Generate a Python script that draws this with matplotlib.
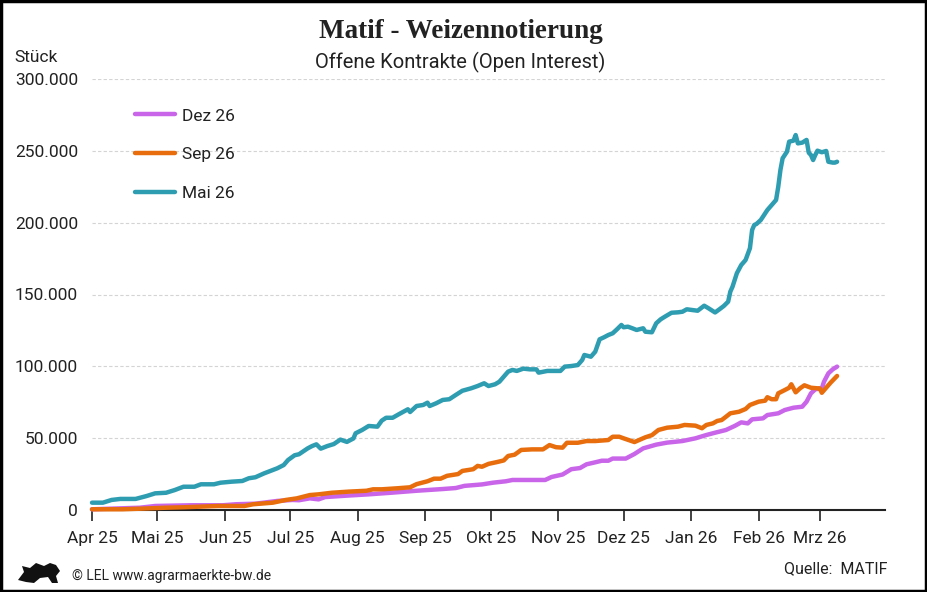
import matplotlib
matplotlib.use("Agg")
import matplotlib.pyplot as plt
from matplotlib.ticker import FuncFormatter, MultipleLocator
from matplotlib.patches import Rectangle, Polygon
import pandas as pd

plt.rcParams['font.family'] = ['Roboto', 'DejaVu Sans']

# ---------------- data ----------------
mai26_dates = [
    "2025-04-01", "2025-04-06", "2025-04-10", "2025-04-14", "2025-04-21", "2025-04-26", "2025-04-30",
    "2025-05-05", "2025-05-09", "2025-05-13", "2025-05-18", "2025-05-21", "2025-05-27", "2025-05-30",
    "2025-06-04", "2025-06-09", "2025-06-12", "2025-06-15", "2025-06-19", "2025-06-25", "2025-06-28", "2025-06-30",
    "2025-07-03", "2025-07-05", "2025-07-09", "2025-07-11", "2025-07-13", "2025-07-15", "2025-07-18",
    "2025-07-21", "2025-07-24", "2025-07-27", "2025-07-30", "2025-07-31",
    "2025-08-03", "2025-08-06", "2025-08-10", "2025-08-12", "2025-08-14", "2025-08-17", "2025-08-20",
    "2025-08-24", "2025-08-25", "2025-08-28", "2025-08-31",
    "2025-09-02", "2025-09-03", "2025-09-06", "2025-09-09", "2025-09-12", "2025-09-15", "2025-09-18",
    "2025-09-22", "2025-09-25", "2025-09-28", "2025-09-30",
    "2025-10-03", "2025-10-05", "2025-10-07", "2025-10-09", "2025-10-11", "2025-10-13", "2025-10-16",
    "2025-10-19", "2025-10-22", "2025-10-23", "2025-10-27",
    "2025-11-02", "2025-11-04", "2025-11-07", "2025-11-10", "2025-11-12", "2025-11-13", "2025-11-16",
    "2025-11-18", "2025-11-20", "2025-11-22", "2025-11-24", "2025-11-26", "2025-11-28", "2025-11-30",
    "2025-12-01", "2025-12-03", "2025-12-05", "2025-12-07", "2025-12-10", "2025-12-11", "2025-12-14",
    "2025-12-16", "2025-12-18", "2025-12-20", "2025-12-23", "2025-12-26", "2025-12-28", "2025-12-30",
    "2026-01-04", "2026-01-07", "2026-01-09", "2026-01-12", "2026-01-14", "2026-01-16", "2026-01-18",
    "2026-01-19", "2026-01-20", "2026-01-22", "2026-01-24", "2026-01-26", "2026-01-28", "2026-01-29",
    "2026-01-30", "2026-01-31",
    "2026-02-02", "2026-02-04", "2026-02-05", "2026-02-07", "2026-02-09", "2026-02-10", "2026-02-11",
    "2026-02-12", "2026-02-14", "2026-02-15", "2026-02-17", "2026-02-18", "2026-02-19", "2026-02-21",
    "2026-02-23", "2026-02-24", "2026-02-25", "2026-02-26", "2026-02-27", "2026-02-28",
    "2026-03-02", "2026-03-04", "2026-03-05", "2026-03-07", "2026-03-08", "2026-03-09",
]
mai26_values = [
    5100, 5100, 7000, 7700, 7700, 9700, 11600,
    12000, 13900, 16200, 16200, 17900, 17900, 19000,
    19700, 20200, 22100, 22800, 25500, 29000, 31300, 34800,
    38100, 38800, 42900, 44500, 45700, 42700, 44500,
    45900, 49000, 47400, 49800, 53400,
    55700, 58500, 58000, 62200, 64200, 64200, 66800,
    70100, 68200, 72400, 73100,
    74700, 72400, 74300, 76600, 77100, 80100, 83000,
    84700, 86300, 88200, 86300,
    87500, 89300, 92800, 96300, 97500, 96800, 98400,
    97900, 97900, 95600, 96800,
    96800, 99800, 100200, 100900, 104400, 107900, 106700,
    110200, 118800, 120200, 121800, 123000, 125800, 128800,
    127200, 127600, 126500, 125300, 126500, 124100, 123700,
    130000, 132700, 134600, 137300, 137600, 138000, 139700,
    138700, 142200, 140400, 137500, 139700, 142000, 145000,
    152000, 155400, 164800, 170500, 174000, 182200, 194900,
    198400, 199100,
    201900, 206500, 208800, 212300, 215800, 225000, 236700,
    244800, 249400, 256400, 257100, 261000, 255200, 255700,
    257600, 248700, 247100, 243600, 247100, 250100,
    249000, 249900, 242400, 241800, 241800, 242400,
]

sep26_dates = [
    "2025-04-01", "2025-04-15", "2025-04-23", "2025-05-05", "2025-05-13", "2025-05-29",
    "2025-06-10", "2025-06-14", "2025-06-23", "2025-06-29",
    "2025-07-04", "2025-07-10", "2025-07-14", "2025-07-20", "2025-07-28",
    "2025-08-05", "2025-08-08", "2025-08-12", "2025-08-19", "2025-08-25", "2025-08-28",
    "2025-09-02", "2025-09-05", "2025-09-08", "2025-09-11", "2025-09-16", "2025-09-18",
    "2025-09-23", "2025-09-25", "2025-09-27", "2025-09-30",
    "2025-10-04", "2025-10-07", "2025-10-09", "2025-10-12", "2025-10-15", "2025-10-20",
    "2025-10-25", "2025-10-28", "2025-10-31",
    "2025-11-03", "2025-11-05", "2025-11-10", "2025-11-14", "2025-11-18", "2025-11-24",
    "2025-11-26", "2025-11-29",
    "2025-12-01", "2025-12-06", "2025-12-11", "2025-12-14", "2025-12-17", "2025-12-21",
    "2025-12-26", "2025-12-29",
    "2026-01-03", "2026-01-06", "2026-01-08", "2026-01-11", "2026-01-13", "2026-01-15",
    "2026-01-17", "2026-01-19", "2026-01-23", "2026-01-26", "2026-01-28",
    "2026-02-01", "2026-02-04", "2026-02-05", "2026-02-07", "2026-02-09", "2026-02-10",
    "2026-02-13", "2026-02-15", "2026-02-16", "2026-02-17", "2026-02-18", "2026-02-20",
    "2026-02-22", "2026-02-25", "2026-02-28",
    "2026-03-01", "2026-03-02", "2026-03-04", "2026-03-06", "2026-03-09",
]
sep26_values = [
    500, 500, 900, 1600, 1900, 2800,
    2800, 4000, 5100, 7000,
    8100, 10400, 10900, 12000, 12800,
    13400, 14400, 14400, 15100, 15800, 18000,
    20000, 21800, 21800, 23800, 25000, 27200,
    28400, 30700, 30100, 32100,
    33400, 34500, 37600, 38500, 41800, 42200,
    42200, 45200, 43700,
    43400, 46800, 46800, 48000, 48000, 48700,
    51000, 51000,
    49900, 47300, 50600, 52100, 55700, 57300,
    58000, 59200,
    58700, 56900, 59200, 60300, 62000, 62600,
    64900, 67300, 68400, 70300, 73100,
    75400, 76100, 78500, 77100, 77100, 81200,
    83500, 85100, 87500, 84700, 81900, 84700,
    86800, 85100, 84700,
    84700, 81600, 85100, 88600, 93300,
]

dez26_dates = [
    "2025-04-01", "2025-04-23", "2025-04-30", "2025-05-17", "2025-05-31",
    "2025-06-06", "2025-06-15", "2025-06-25",
    "2025-07-02", "2025-07-05", "2025-07-10", "2025-07-14", "2025-07-17", "2025-07-27",
    "2025-08-06", "2025-08-17", "2025-08-28",
    "2025-09-09", "2025-09-15", "2025-09-19", "2025-09-27",
    "2025-10-02", "2025-10-08", "2025-10-11", "2025-10-26", "2025-10-29",
    "2025-11-03", "2025-11-07", "2025-11-11", "2025-11-14", "2025-11-18", "2025-11-21",
    "2025-11-24", "2025-11-26",
    "2025-12-02", "2025-12-06", "2025-12-10", "2025-12-16", "2025-12-21", "2025-12-28",
    "2026-01-03", "2026-01-08", "2026-01-12", "2026-01-17", "2026-01-21", "2026-01-24",
    "2026-01-27", "2026-01-29",
    "2026-02-03", "2026-02-05", "2026-02-10", "2026-02-13", "2026-02-17", "2026-02-21",
    "2026-02-23", "2026-02-25", "2026-02-27",
    "2026-03-02", "2026-03-03", "2026-03-05", "2026-03-07", "2026-03-09",
]
dez26_values = [
    500, 1600, 2800, 3300, 3300,
    4000, 4400, 6300,
    7000, 6800, 8100, 7400, 9000, 10000,
    10900, 12100, 13400,
    14600, 15300, 16800, 17800,
    19000, 20000, 20900, 20900, 23000,
    24700, 28400, 29200, 31800, 33200, 34300,
    34300, 35800,
    35800, 39000, 42900, 45500, 46900, 48000,
    49900, 52200, 53800, 55700, 58500, 61000,
    60300, 63100,
    63800, 66100, 67300, 69600, 71200, 71900,
    75400, 81200, 84000,
    84700, 89300, 95100, 97900, 99800,
]

series_names = ["Dez 26", "Sep 26", "Mai 26"]
series_colors = ["#c965e9", "#e86d0d", "#2f9db1"]

tick_dates = ["2025-04-01", "2025-05-01", "2025-06-01", "2025-07-01", "2025-08-01", "2025-09-01",
              "2025-10-01", "2025-11-01", "2025-12-01", "2026-01-01", "2026-02-01", "2026-03-01"]
tick_labels = ["Apr 25", "Mai 25", "Jun 25", "Jul 25", "Aug 25", "Sep 25",
               "Okt 25", "Nov 25", "Dez 25", "Jan 26", "Feb 26", "Mrz 26"]

# ---------------- figure ----------------
W, H = 927, 592
fig = plt.figure(figsize=(W / 100, H / 100), dpi=100)
fig.patch.set_facecolor("white")

ax = fig.add_axes([92 / W, (H - 510) / H, (885 - 92) / W, (510 - 79) / H])

data = [
    (dez26_dates, dez26_values),
    (sep26_dates, sep26_values),
    (mai26_dates, mai26_values),
]
handles = []
for (d, v), name, col in zip(data, series_names, series_colors):
    h, = ax.plot(pd.to_datetime(d), v, color=col, lw=3.2, label=name,
                 solid_capstyle="round", solid_joinstyle="round", clip_on=False, zorder=3)
    handles.append(h)

ax.set_xlim(pd.Timestamp("2025-04-01"), pd.Timestamp("2026-03-31"))
ax.set_ylim(0, 300000)
ax.yaxis.set_major_locator(MultipleLocator(50000))
ax.yaxis.set_major_formatter(FuncFormatter(lambda v, p: f"{int(v):,}".replace(",", ".")))
ax.grid(axis="y", color="#d4d4d4", linestyle=(0, (3, 2)), linewidth=0.8, zorder=0)
ax.set_axisbelow(True)

ax.set_xticks(pd.to_datetime(tick_dates))
ax.set_xticklabels(tick_labels)

for s in ["top", "right", "left"]:
    ax.spines[s].set_visible(False)
ax.spines["bottom"].set_color("#222222")
ax.spines["bottom"].set_linewidth(1.5)
ax.tick_params(axis="x", length=8, width=1.2, color="#222222", pad=7, labelsize=12.5, labelcolor="#222222")
ax.tick_params(axis="y", length=0, pad=10, labelsize=12.5, labelcolor="#222222")

leg = ax.legend(handles=handles, loc="upper left", bbox_to_anchor=(0.035, 0.968), frameon=False,
                fontsize=12.5, handlelength=2.3, labelspacing=1.36, handletextpad=0.4)
for t in leg.get_texts():
    t.set_color("#222222")

# texts
fig.text(461 / W, 1 - 32 / H, "Matif - Weizennotierung", ha="center", va="center",
         fontsize=19.5, fontweight="bold", family=["Liberation Serif", "DejaVu Serif"], color="#222222")
fig.text(460 / W, 1 - 62 / H, "Offene Kontrakte (Open Interest)", ha="center", va="center",
         fontsize=14.5, color="#222222")
fig.text(14 / W, 1 - 58 / H, "Stück", ha="left", va="center", fontsize=12.5, color="#222222")
fig.text(72 / W, 1 - 576 / H, "© LEL www.agrarmaerkte-bw.de", ha="left", va="center",
         fontsize=10, color="#222222")
fig.text(888 / W, 1 - 569 / H, "Quelle:  MATIF", ha="right", va="center",
         fontsize=11.5, color="#222222")

# small lion-like emblem (decorative)
lion = [(18, 580), (24, 572), (22, 566), (30, 568), (36, 563), (44, 566), (50, 563), (56, 565),
        (60, 571), (56, 576), (58, 583), (52, 583), (48, 577), (40, 578), (34, 583), (26, 582)]
fig.patches.append(Polygon([(x / W, 1 - y / H) for x, y in lion], closed=True,
                           transform=fig.transFigure, facecolor="#111111", edgecolor="none"))

# border
fig.patches.append(Rectangle((0.001, 0.001), 0.998, 0.997, transform=fig.transFigure,
                             fill=False, edgecolor="black", linewidth=2.5))

fig.savefig("out.png", dpi=100, facecolor="white")
